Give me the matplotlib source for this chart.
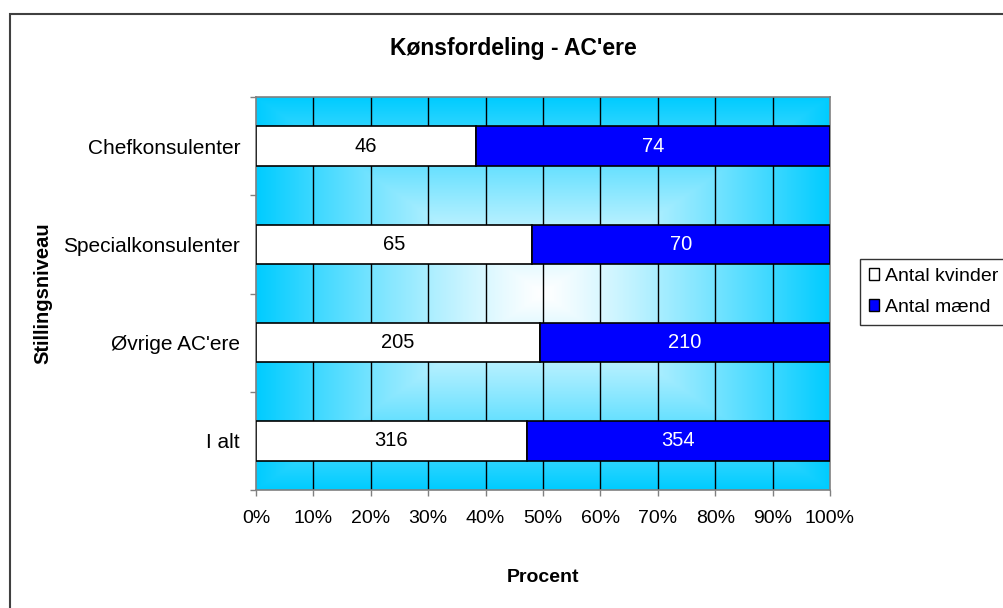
import numpy as np
import matplotlib
matplotlib.use("Agg")
import matplotlib.pyplot as plt
from matplotlib.patches import Patch, Rectangle

plt.rcParams['font.family'] = ['Liberation Sans', 'DejaVu Sans']

# data
categories = ["Chefkonsulenter", "Specialkonsulenter", "Øvrige AC'ere", "I alt"]
kvinder = [46, 65, 205, 316]
maend = [74, 70, 210, 354]
xticks = [0, 10, 20, 30, 40, 50, 60, 70, 80, 90, 100]

kv = np.array(kvinder, dtype=float)
ma = np.array(maend, dtype=float)
total = kv + ma
pct_kv = kv / total * 100
pct_ma = ma / total * 100

fig = plt.figure(figsize=(10.04, 6.08), dpi=100)
ax = fig.add_axes([256 / 1004, 1 - 490 / 608, 574 / 1004, 393 / 608])

# background gradient (rectangular "from centre" fill)
nx, ny = 400, 300
gx = np.linspace(-1, 1, nx)
gy = np.linspace(-1, 1, ny)
X, Y = np.meshgrid(gx, gy)
t = np.clip(np.maximum(np.abs(X), np.abs(Y)), 0, 1) ** 1.2
edge = np.array([0, 204, 255]) / 255
white = np.array([1.0, 1.0, 1.0])
img = white[None, None, :] * (1 - t[..., None]) + edge[None, None, :] * t[..., None]
ax.imshow(img, extent=[0, 100, 3.5, -0.5], aspect='auto', zorder=0, interpolation='bilinear')

y = np.arange(len(categories))
ax.barh(y, pct_kv, height=0.4, color='white', edgecolor='black', linewidth=1.2, zorder=3)
ax.barh(y, pct_ma, left=pct_kv, height=0.4, color='#0000FF', edgecolor='black', linewidth=1.2, zorder=3)

for i in range(len(categories)):
    ax.text(pct_kv[i] / 2, y[i], str(kvinder[i]), ha='center', va='center', fontsize=14.5, color='black', zorder=4)
    ax.text(pct_kv[i] + pct_ma[i] / 2, y[i], str(maend[i]), ha='center', va='center', fontsize=14.5, color='white', zorder=4)

# vertical grid lines
for xv in xticks[1:-1]:
    ax.axvline(xv, color='black', linewidth=1.0, zorder=1)

ax.set_xlim(0, 100)
ax.set_ylim(3.5, -0.5)
ax.set_xticks(xticks)
ax.set_xticklabels([f"{v}%" for v in xticks], fontsize=14)
ax.set_yticks(y)
ax.set_yticklabels(categories, fontsize=15)
ax.set_yticks(np.arange(-0.5, len(categories), 1), minor=True)
ax.tick_params(axis='y', which='major', length=0, pad=11.5)
ax.tick_params(axis='y', which='minor', length=4.5, color='#808080', width=1)
ax.tick_params(axis='x', which='major', length=4.5, color='#808080', width=1, pad=10)
for s in ax.spines.values():
    s.set_color('#808080')
    s.set_linewidth(1.2)

fig.text(513 / 1004, 1 - 48 / 608, "Kønsfordeling - AC'ere", ha='center', va='center',
         fontsize=16.5, fontweight='bold')
fig.text(543 / 1004, 1 - 578 / 608, "Procent", ha='center', va='center', fontsize=14, fontweight='bold')
fig.text(43 / 1004, 1 - 293 / 608, "Stillingsniveau", ha='center', va='center', rotation=90,
         fontsize=14.5, fontweight='bold')

# outer chart border
fig.add_artist(Rectangle((10 / 1004, -0.1), 1.2, 1 - 14 / 608 + 0.1, transform=fig.transFigure,
                         fill=False, edgecolor='#404040', linewidth=1.5))

handles = [Patch(facecolor='white', edgecolor='black', label='Antal kvinder'),
           Patch(facecolor='#0000FF', edgecolor='black', label='Antal mænd')]
leg = fig.legend(handles=handles, loc='center left', bbox_to_anchor=(860 / 1004, 1 - 292 / 608),
                 fontsize=14, frameon=True, fancybox=False, edgecolor='black',
                 handlelength=0.55, handleheight=0.55, handletextpad=0.3, labelspacing=0.7,
                 borderpad=0.45, borderaxespad=0)
leg.get_frame().set_linewidth(1.0)

fig.savefig("out.png", dpi=100)
